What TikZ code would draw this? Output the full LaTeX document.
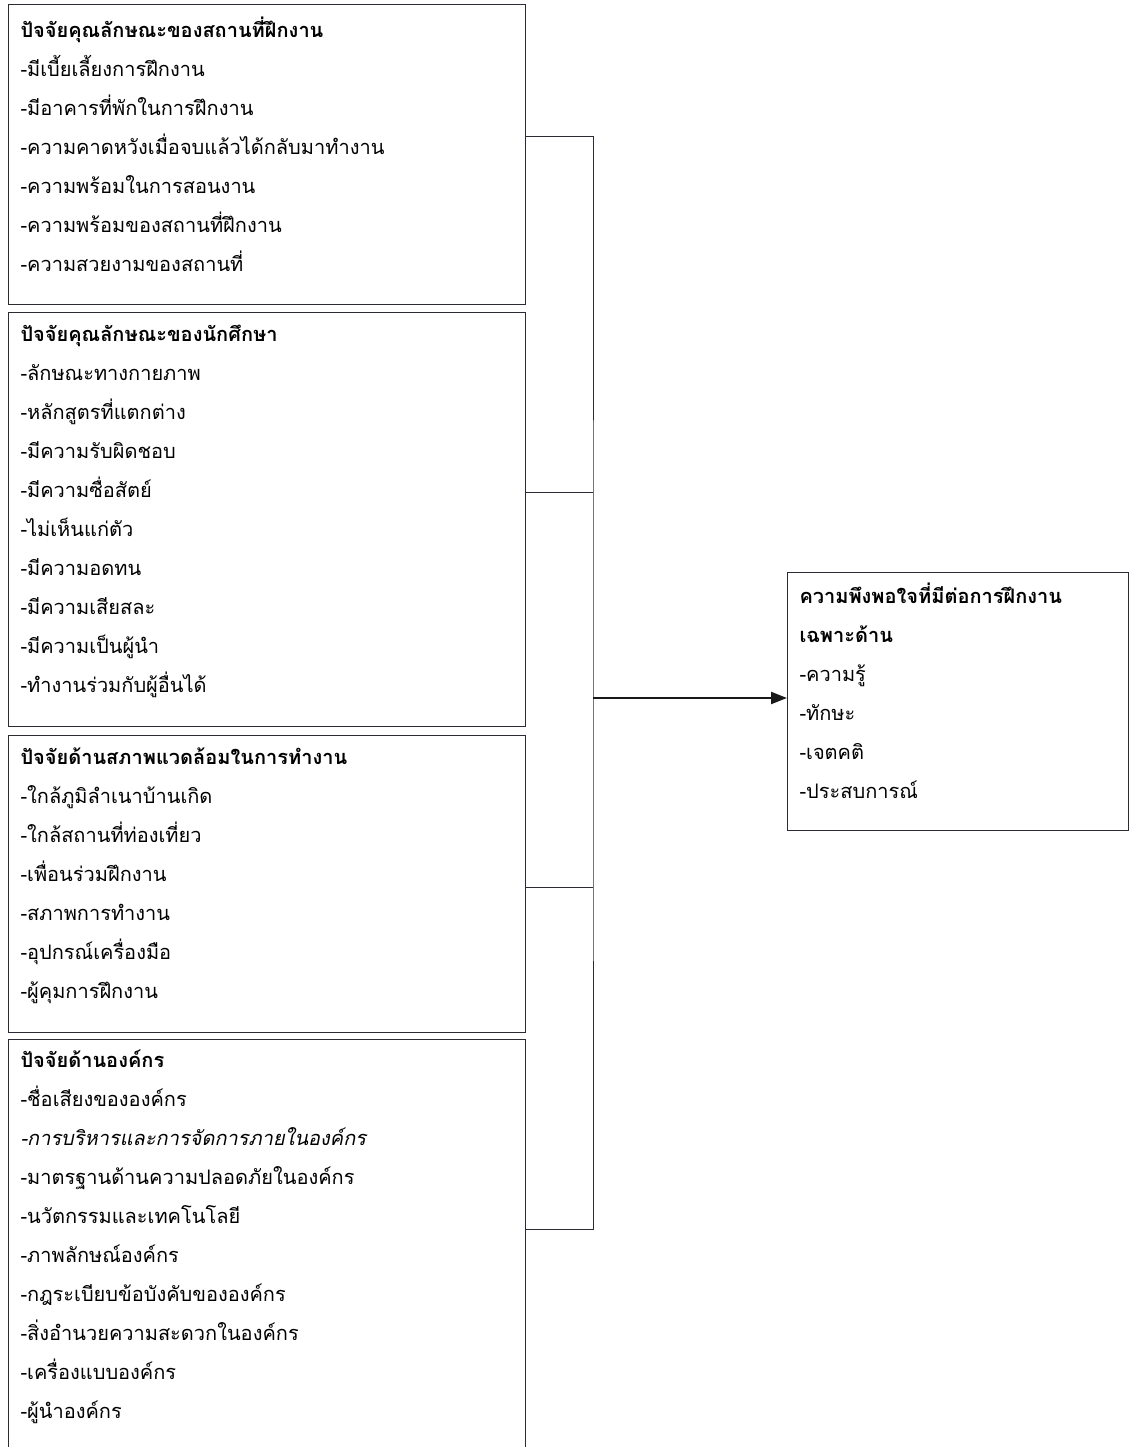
\documentclass[tikz,border=0pt]{standalone}
\usepackage{fontspec}
\newfontfamily\thaifont[Script=Thai]{Loma}
\newfontfamily\thaislant[Script=Thai,FakeSlant=0.2]{Loma}
\usetikzlibrary{
  arrows.meta,
  positioning
}
\definecolor{InkGray}{HTML}{2B2B33}
\tikzset{
  % Factor box: fixed width, text flush left, pushed to the top
  factor/.style={
    rectangle, draw=InkGray, line width=1pt,
    minimum width=517pt, text width=493pt, inner xsep=12pt,
    align=left, font=\thaifont\fontsize{20}{39}\selectfont,
    execute at end node={\\[-18pt]\mbox{}}
  },
  % Plain connector
  link/.style={draw=InkGray, line width=1pt},
  % Arrow
  arr/.style={
    -{Triangle[length=16pt,width=12pt]},
    line width=2.2pt, color=black!90
  }
}
\begin{document}
\begin{tikzpicture}[x=1pt, y=-1pt]
  \useasboundingbox (0,0) rectangle (1131,1447);
  \node[factor, anchor=north west, minimum height=300pt] (b1) at (8,4) {%
    \textbf{ปัจจัยคุณลักษณะของสถานที่ฝึกงาน}\\
    -มีเบี้ยเลี้ยงการฝึกงาน\\
    -มีอาคารที่พักในการฝึกงาน\\
    -ความคาดหวังเมื่อจบแล้วได้กลับมาทำงาน\\
    -ความพร้อมในการสอนงาน\\
    -ความพร้อมของสถานที่ฝึกงาน\\
    -ความสวยงามของสถานที่};
  \node[factor, minimum height=414pt, below=7pt of b1] (b2) {%
    \textbf{ปัจจัยคุณลักษณะของนักศึกษา}\\
    -ลักษณะทางกายภาพ\\
    -หลักสูตรที่แตกต่าง\\
    -มีความรับผิดชอบ\\
    -มีความซื่อสัตย์\\
    -ไม่เห็นแก่ตัว\\
    -มีความอดทน\\
    -มีความเสียสละ\\
    -มีความเป็นผู้นำ\\
    -ทำงานร่วมกับผู้อื่นได้};
  \node[factor, minimum height=297pt, below=8pt of b2] (b3) {%
    \textbf{ปัจจัยด้านสภาพแวดล้อมในการทำงาน}\\
    -ใกล้ภูมิลำเนาบ้านเกิด\\
    -ใกล้สถานที่ท่องเที่ยว\\
    -เพื่อนร่วมฝึกงาน\\
    -สภาพการทำงาน\\
    -อุปกรณ์เครื่องมือ\\
    -ผู้คุมการฝึกงาน};
  \node[factor, minimum height=410pt, below=6pt of b3] (b4) {%
    \textbf{ปัจจัยด้านองค์กร}\\
    -ชื่อเสียงขององค์กร\\
    {\thaislant -การบริหารและการจัดการภายในองค์กร}\\
    -มาตรฐานด้านความปลอดภัยในองค์กร\\
    -นวัตกรรมและเทคโนโลยี\\
    -ภาพลักษณ์องค์กร\\
    -กฎระเบียบข้อบังคับขององค์กร\\
    -สิ่งอำนวยความสะดวกในองค์กร\\
    -เครื่องแบบองค์กร\\
    -ผู้นำองค์กร};
  \node[factor, anchor=north west, minimum width=341pt, text width=317pt,
        minimum height=258pt] (res) at (787,572) {%
    \textbf{ความพึงพอใจที่มีต่อการฝึกงาน}\\
    \textbf{เฉพาะด้าน}\\
    -ความรู้\\
    -ทักษะ\\
    -เจตคติ\\
    -ประสบการณ์};

  % bus joining the four factor boxes
  \coordinate (bus) at (593,698);
  \draw[link] ([yshift=18pt]b1.east) -| (bus) |- ([yshift=15pt]b4.east);
  \draw[link] ([yshift=27pt]b2.east) -- ([yshift=27pt]b2.east -| bus);
  \draw[link] ([yshift=-3.5pt]b3.east) -- ([yshift=-3.5pt]b3.east -| bus);
  \draw[arr] (bus) -- (res.west |- bus);
\end{tikzpicture}
\end{document}
